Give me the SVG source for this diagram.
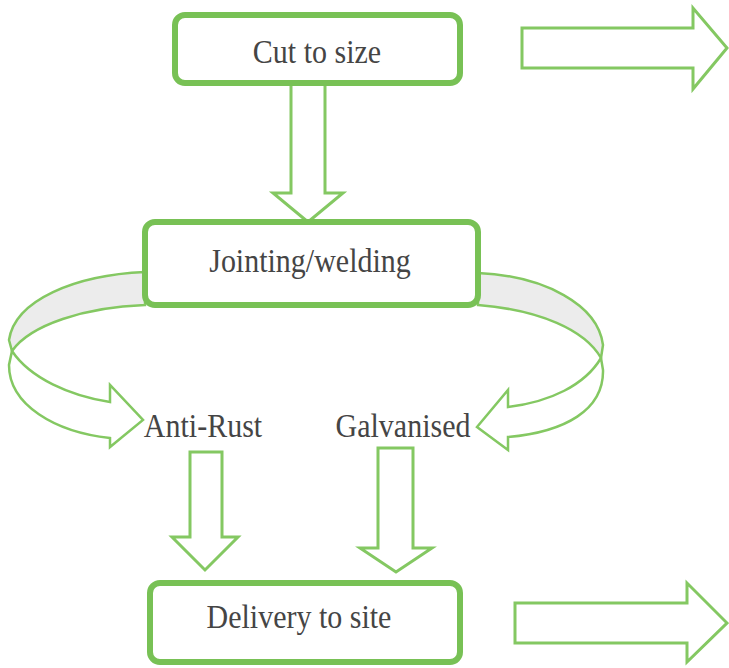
<svg xmlns="http://www.w3.org/2000/svg" width="729" height="668" viewBox="0 0 729 668">
<style>
.box{fill:#fff;stroke:#78c155;stroke-width:6}
.arr{fill:#fff;stroke:#84c862;stroke-width:3;stroke-linejoin:miter}
.carr{fill:#fff;stroke:#84c862;stroke-width:2.5;stroke-linejoin:miter}
.band{fill:#ececec;stroke:#84c862;stroke-width:2.5}
.lbl{font-family:"Liberation Serif","Times New Roman",serif;font-size:30px;fill:#454545;text-anchor:middle}
</style>
<rect width="729" height="668" fill="#fff"/>
<g id="connectors">
<polygon class="arr" points="291,83 325,83 325,193 343,193 308,222 273,193 291,193"/>
<polygon class="arr" points="522,28 693,28 693,8 727,48 693,89 693,68 522,68"/>
<polygon class="arr" points="515,603 687,603 687,583 727,623 687,662 687,643 515,643"/>
<polygon class="arr" points="190,452 222,452 222,537 238,537 205,570 172,537 190,537"/>
<polygon class="arr" points="378,448 413,448 413,548 432,548 396,572 360,548 378,548"/>
<path class="band" d="M145,272 C75,275 15,300 9,340 L12,351 C30,325 85,307 145,305 Z"/>
<path class="carr" d="M12,351 C30,378 70,396 110,402 L110,385 L143,420 L110,447 L110,438 C55,432 9,405 9,365 Z"/>
<path class="band" d="M478,273 C545,276 598,305 603,345 L601,358 C585,330 540,310 478,305 Z"/>
<path class="carr" d="M601,358 C585,385 550,402 508,407 L508,390 L477,427 L508,450 L508,437 C565,432 604,410 603,370 Z"/>
</g>
<g id="cut">
<rect class="box" x="175" y="15" width="285" height="68" rx="10"/>
<text class="lbl" transform="translate(317,63) scale(1,1.15)">Cut to size</text>
</g>
<g id="jointing">
<rect class="box" x="145" y="222" width="333" height="83" rx="10"/>
<text class="lbl" transform="translate(310,272) scale(1,1.15)">Jointing/welding</text>
</g>
<g id="antirust">
<text class="lbl" transform="translate(203,437) scale(1,1.15)">Anti-Rust</text>
</g>
<g id="galvanised">
<text class="lbl" transform="translate(403,437) scale(1,1.15)">Galvanised</text>
</g>
<g id="delivery">
<rect class="box" x="150" y="583" width="310" height="79" rx="10"/>
<text class="lbl" transform="translate(299,628) scale(1,1.15)">Delivery to site</text>
</g>
</svg>
